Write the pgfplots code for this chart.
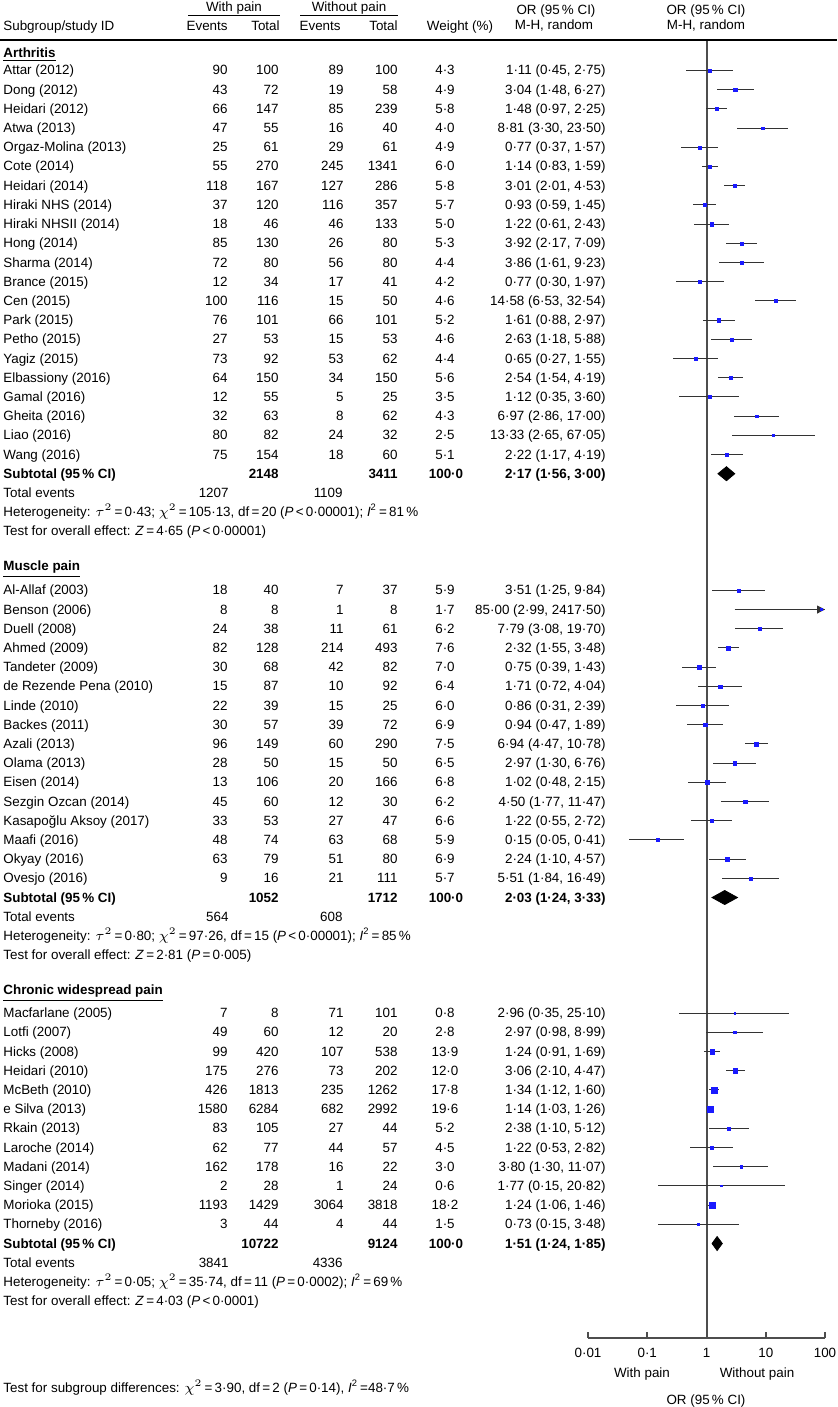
\documentclass[border=0pt]{standalone}
\usepackage{fontspec}
\setmainfont{Liberation Sans}
\usepackage{pgfplots}
\pgfplotsset{compat=1.18}
\usepackage{pgfplotstable}
\usetikzlibrary{arrows.meta}

\pgfkeys{/pgf/number format/.cd, assume math mode=true, set decimal separator={·}, 1000 sep={}}
\newcommand\ftwo[1]{\pgfmathprintnumber[fixed,fixed zerofill,precision=2]{#1}}
\newcommand\fone[1]{\pgfmathprintnumber[fixed,fixed zerofill,precision=1]{#1}}
\definecolor{ci}{HTML}{333333}
\definecolor{ax}{HTML}{4D4D4D}
\definecolor{sq}{HTML}{1A1AFF}

% y = row position (px from top), events/total with and without pain, weight, OR and 95% CI
\pgfplotstableread[col sep=comma]{
y,name,e1,t1,e2,t2,w,or,lo,hi
70.5,Attar (2012),90,100,89,100,4.3,1.11,0.45,2.75
89.7,Dong (2012),43,72,19,58,4.9,3.04,1.48,6.27
108.9,Heidari (2012),66,147,85,239,5.8,1.48,0.97,2.25
128.1,Atwa (2013),47,55,16,40,4.0,8.81,3.30,23.50
147.3,Orgaz-Molina (2013),25,61,29,61,4.9,0.77,0.37,1.57
166.5,Cote (2014),55,270,245,1341,6.0,1.14,0.83,1.59
185.7,Heidari (2014),118,167,127,286,5.8,3.01,2.01,4.53
204.9,Hiraki NHS (2014),37,120,116,357,5.7,0.93,0.59,1.45
224.1,Hiraki NHSII (2014),18,46,46,133,5.0,1.22,0.61,2.43
243.3,Hong (2014),85,130,26,80,5.3,3.92,2.17,7.09
262.5,Sharma (2014),72,80,56,80,4.4,3.86,1.61,9.23
281.7,Brance (2015),12,34,17,41,4.2,0.77,0.30,1.97
300.9,Cen (2015),100,116,15,50,4.6,14.58,6.53,32.54
320.1,Park (2015),76,101,66,101,5.2,1.61,0.88,2.97
339.3,Petho (2015),27,53,15,53,4.6,2.63,1.18,5.88
358.5,Yagiz (2015),73,92,53,62,4.4,0.65,0.27,1.55
377.7,Elbassiony (2016),64,150,34,150,5.6,2.54,1.54,4.19
396.9,Gamal (2016),12,55,5,25,3.5,1.12,0.35,3.60
416.1,Gheita (2016),32,63,8,62,4.3,6.97,2.86,17.00
435.3,Liao (2016),80,82,24,32,2.5,13.33,2.65,67.05
454.5,Wang (2016),75,154,18,60,5.1,2.22,1.17,4.19
}\arth

\pgfplotstableread[col sep=comma]{
y,name,e1,t1,e2,t2,w,or,lo,hi
590.3,Al-Allaf (2003),18,40,7,37,5.9,3.51,1.25,9.84
609.5,Benson (2006),8,8,1,8,1.7,85.00,2.99,2417.50
628.7,Duell (2008),24,38,11,61,6.2,7.79,3.08,19.70
647.9,Ahmed (2009),82,128,214,493,7.6,2.32,1.55,3.48
667.1,Tandeter (2009),30,68,42,82,7.0,0.75,0.39,1.43
686.3,de Rezende Pena (2010),15,87,10,92,6.4,1.71,0.72,4.04
705.5,Linde (2010),22,39,15,25,6.0,0.86,0.31,2.39
724.7,Backes (2011),30,57,39,72,6.9,0.94,0.47,1.89
743.9,Azali (2013),96,149,60,290,7.5,6.94,4.47,10.78
763.1,Olama (2013),28,50,15,50,6.5,2.97,1.30,6.76
782.3,Eisen (2014),13,106,20,166,6.8,1.02,0.48,2.15
801.5,Sezgin Ozcan (2014),45,60,12,30,6.2,4.50,1.77,11.47
820.7,Kasapoğlu Aksoy (2017),33,53,27,47,6.6,1.22,0.55,2.72
839.9,Maafi (2016),48,74,63,68,5.9,0.15,0.05,0.41
859.1,Okyay (2016),63,79,51,80,6.9,2.24,1.10,4.57
878.3,Ovesjo (2016),9,16,21,111,5.7,5.51,1.84,16.49
}\muscle

\pgfplotstableread[col sep=comma]{
y,name,e1,t1,e2,t2,w,or,lo,hi
1013.1,Macfarlane (2005),7,8,71,101,0.8,2.96,0.35,25.10
1032.3,Lotfi (2007),49,60,12,20,2.8,2.97,0.98,8.99
1051.5,Hicks (2008),99,420,107,538,13.9,1.24,0.91,1.69
1070.7,Heidari (2010),175,276,73,202,12.0,3.06,2.10,4.47
1089.9,McBeth (2010),426,1813,235,1262,17.8,1.34,1.12,1.60
1109.1,e Silva (2013),1580,6284,682,2992,19.6,1.14,1.03,1.26
1128.3,Rkain (2013),83,105,27,44,5.2,2.38,1.10,5.12
1147.5,Laroche (2014),62,77,44,57,4.5,1.22,0.53,2.82
1166.7,Madani (2014),162,178,16,22,3.0,3.80,1.30,11.07
1185.9,Singer (2014),2,28,1,24,0.6,1.77,0.15,20.82
1205.1,Morioka (2015),1193,1429,3064,3818,18.2,1.24,1.06,1.46
1224.3,Thorneby (2016),3,44,4,44,1.5,0.73,0.15,3.48
}\cwp

% subtotals: totals, pooled OR and CI, total events
\pgfplotstableread[col sep=comma]{
y,t1,t2,or,lo,hi,te1,te2
473.7,2148,3411,2.17,1.56,3.00,1207,1109
897.5,1052,1712,2.03,1.24,3.33,564,608
1243.5,10722,9124,1.51,1.24,1.85,3841,4336
}\subtot

\newcommand\studytext[1]{%
  \pgfplotstablegetrowsof{#1}%
  \pgfmathtruncatemacro\lastrow{\pgfplotsretval-1}%
  \foreach \i in {0,...,\lastrow}{%
    \pgfplotstablegetelem{\i}{y}\of{#1}\let\ry\pgfplotsretval
    \pgfplotstablegetelem{\i}{name}\of{#1}\let\rname\pgfplotsretval
    \pgfplotstablegetelem{\i}{e1}\of{#1}\let\reA\pgfplotsretval
    \pgfplotstablegetelem{\i}{t1}\of{#1}\let\rtA\pgfplotsretval
    \pgfplotstablegetelem{\i}{e2}\of{#1}\let\reB\pgfplotsretval
    \pgfplotstablegetelem{\i}{t2}\of{#1}\let\rtB\pgfplotsretval
    \pgfplotstablegetelem{\i}{w}\of{#1}\let\rw\pgfplotsretval
    \pgfplotstablegetelem{\i}{or}\of{#1}\let\ror\pgfplotsretval
    \pgfplotstablegetelem{\i}{lo}\of{#1}\let\rlo\pgfplotsretval
    \pgfplotstablegetelem{\i}{hi}\of{#1}\let\rhi\pgfplotsretval
    \node[anchor=base west] at (3,\ry+4.5) {\rname};
    \node[anchor=base east] at (228,\ry+4.5) {\reA};
    \node[anchor=base east] at (279,\ry+4.5) {\rtA};
    \node[anchor=base east] at (344,\ry+4.5) {\reB};
    \node[anchor=base east] at (398,\ry+4.5) {\rtB};
    \node[anchor=base] at (445,\ry+4.5) {\fone{\rw}};
    \node[anchor=base east] at (606,\ry+4.5) {\ftwo{\ror} (\ftwo{\rlo}, \ftwo{\rhi})};
  }}

\pgfplotsset{
  ci bars/.style={draw=none, mark=none,
    error bars/.cd, x dir=both, x explicit, error mark=none,
    error bar style={draw=ci, line width=0.5pt, solid}},
  weight marks/.style={only marks, mark=square*, scatter,
    scatter/use mapped color={draw=sq, fill=sq},
    mark options={line width=0.1pt},
    visualization depends on={\thisrow{w} \as \wt},
    scatter/@pre marker code/.append style={/tikz/mark size={0.1+0.3*sqrt(\wt)}}},
}

\begin{document}
\fontsize{6.7}{8}\selectfont
\begin{tikzpicture}[x=0.5pt, y=-0.5pt, every node/.append style={inner sep=0pt}]
\useasboundingbox (0,0) rectangle (837,1407);

\begin{axis}[
  at={(294pt,-669pt)}, anchor=south west,
  scale only axis, width=118.5pt, height=649pt,
  xmode=log, xmin=0.01, xmax=100,
  ymin=40, ymax=1338, y dir=reverse,
  axis x line*=bottom, axis y line=none,
  x axis line style={ax, line width=0.9pt, -},
  xtick={0.01,0.1,1,10,100},
  xticklabels={0·01,0·1,1,10,100},
  xminorticks=false,
  major tick length=3pt,
  tick align=inside,
  xtick style={ax, line width=0.9pt},
  xticklabel style={anchor=base, yshift=-9.75pt},
  clip=false,
]
\addplot[ax, line width=1pt] coordinates {(1,40) (1,1338)};

% confidence intervals
\addplot[ci bars] table[x=or, y=y, x error minus expr=\thisrow{or}-\thisrow{lo},
  x error plus expr={min(\thisrow{hi},100)-\thisrow{or}}] {\arth};
\addplot[ci bars] table[x=or, y=y, x error minus expr=\thisrow{or}-\thisrow{lo},
  x error plus expr={min(\thisrow{hi},100)-\thisrow{or}}] {\muscle};
\addplot[ci bars] table[x=or, y=y, x error minus expr=\thisrow{or}-\thisrow{lo},
  x error plus expr={min(\thisrow{hi},100)-\thisrow{or}}] {\cwp};
\addplot[ci, line width=0.5pt, -{Triangle[length=4pt,width=4pt]}] coordinates {(2.99,609.5) (100,609.5)};

% study weights
\addplot[weight marks] table[x=or, y=y] {\arth};
\addplot[weight marks] table[x=or, y=y] {\muscle};
\addplot[weight marks] table[x=or, y=y] {\cwp};

% pooled estimates
\addplot[fill=black, draw=black] coordinates {(1.56,473.7) (2.17,466.7) (3.00,473.7) (2.17,480.7)} -- cycle;
\addplot[fill=black, draw=black] coordinates {(1.24,897.5) (2.03,890.5) (3.33,897.5) (2.03,904.5)} -- cycle;
\addplot[fill=black, draw=black] coordinates {(1.24,1243.5) (1.51,1236.5) (1.85,1243.5) (1.51,1250.5)} -- cycle;
\end{axis}

% header
\node[anchor=base] at (234,12) {With pain};
\node[anchor=base] at (349,12) {Without pain};
\draw[line width=0.5pt] (188,16) -- (280,16) (300,16) -- (398,16);
\node[anchor=base west] at (3,31) {Subgroup/study ID};
\node[anchor=base east] at (228,31) {Events};
\node[anchor=base east] at (280,31) {Total};
\node[anchor=base east] at (341,31) {Events};
\node[anchor=base east] at (398,31) {Total};
\node[anchor=base] at (460,31) {Weight (\%)};
\node[anchor=base] at (556,14.5) {OR (95\,\% CI)};
\node[anchor=base] at (554,30) {M-H, random};
\node[anchor=base] at (706,14.5) {OR (95\,\% CI)};
\node[anchor=base] at (706,30) {M-H, random};
\draw[line width=0.8pt] (0,40) -- (837,40);

% subgroup headings
\node[anchor=base west] at (3,57.5) {\underline{\textbf{Arthritis}}};
\node[anchor=base west] at (3,570.5) {\underline{\textbf{Muscle pain}}};
\node[anchor=base west] at (3,994.5) {\underline{\textbf{Chronic widespread pain}}};

% study rows
\studytext{\arth}
\studytext{\muscle}
\studytext{\cwp}

% subtotal rows
\foreach \i in {0,1,2}{
  \pgfplotstablegetelem{\i}{y}\of{\subtot}\let\ry\pgfplotsretval
  \pgfplotstablegetelem{\i}{t1}\of{\subtot}\let\rtA\pgfplotsretval
  \pgfplotstablegetelem{\i}{t2}\of{\subtot}\let\rtB\pgfplotsretval
  \pgfplotstablegetelem{\i}{or}\of{\subtot}\let\ror\pgfplotsretval
  \pgfplotstablegetelem{\i}{lo}\of{\subtot}\let\rlo\pgfplotsretval
  \pgfplotstablegetelem{\i}{hi}\of{\subtot}\let\rhi\pgfplotsretval
  \pgfplotstablegetelem{\i}{te1}\of{\subtot}\let\reA\pgfplotsretval
  \pgfplotstablegetelem{\i}{te2}\of{\subtot}\let\reB\pgfplotsretval
  \node[anchor=base west, font=\bfseries] at (3,\ry+4.5) {Subtotal (95\,\% CI)};
  \node[anchor=base east, font=\bfseries] at (279,\ry+4.5) {\rtA};
  \node[anchor=base east, font=\bfseries] at (398,\ry+4.5) {\rtB};
  \node[anchor=base, font=\bfseries] at (446,\ry+4.5) {100·0};
  \node[anchor=base east, font=\bfseries] at (606,\ry+4.5) {\ftwo{\ror} (\ftwo{\rlo}, \ftwo{\rhi})};
  \node[anchor=base west] at (3,\ry+23.7) {Total events};
  \node[anchor=base east] at (229,\ry+23.7) {\reA};
  \node[anchor=base east] at (343,\ry+23.7) {\reB};
}

% heterogeneity and overall effect
\node[anchor=base west] at (3,516.6) {Heterogeneity: $\tau^2$\,=\,0·43; $\chi^2$\,=\,105·13, df\,=\,20 (\textit{P}\,<\,0·00001); \textit{I}\textsuperscript{2}\,=\,81\,\%};
\node[anchor=base west] at (3,535.8) {Test for overall effect: \textit{Z}\,=\,4·65 (\textit{P}\,<\,0·00001)};
\node[anchor=base west] at (3,940.4) {Heterogeneity: $\tau^2$\,=\,0·80; $\chi^2$\,=\,97·26, df\,=\,15 (\textit{P}\,<\,0·00001); \textit{I}\textsuperscript{2}\,=\,85\,\%};
\node[anchor=base west] at (3,959.6) {Test for overall effect: \textit{Z}\,=\,2·81 (\textit{P}\,=\,0·005)};
\node[anchor=base west] at (3,1286.4) {Heterogeneity: $\tau^2$\,=\,0·05; $\chi^2$\,=\,35·74, df\,=\,11 (\textit{P}\,=\,0·0002); \textit{I}\textsuperscript{2}\,=\,69\,\%};
\node[anchor=base west] at (3,1305.6) {Test for overall effect: \textit{Z}\,=\,4·03 (\textit{P}\,<\,0·0001)};

% footer
\node[anchor=base west] at (3,1392.5) {Test for subgroup differences: $\chi^2$\,=\,3·90, df\,=\,2 (\textit{P}\,=\,0·14), \textit{I}\textsuperscript{2}\,=48·7\,\%};
\node[anchor=base] at (642,1377.5) {With pain};
\node[anchor=base] at (757,1377.5) {Without pain};
\node[anchor=base] at (706,1404.5) {OR (95\,\% CI)};
\end{tikzpicture}
\end{document}
